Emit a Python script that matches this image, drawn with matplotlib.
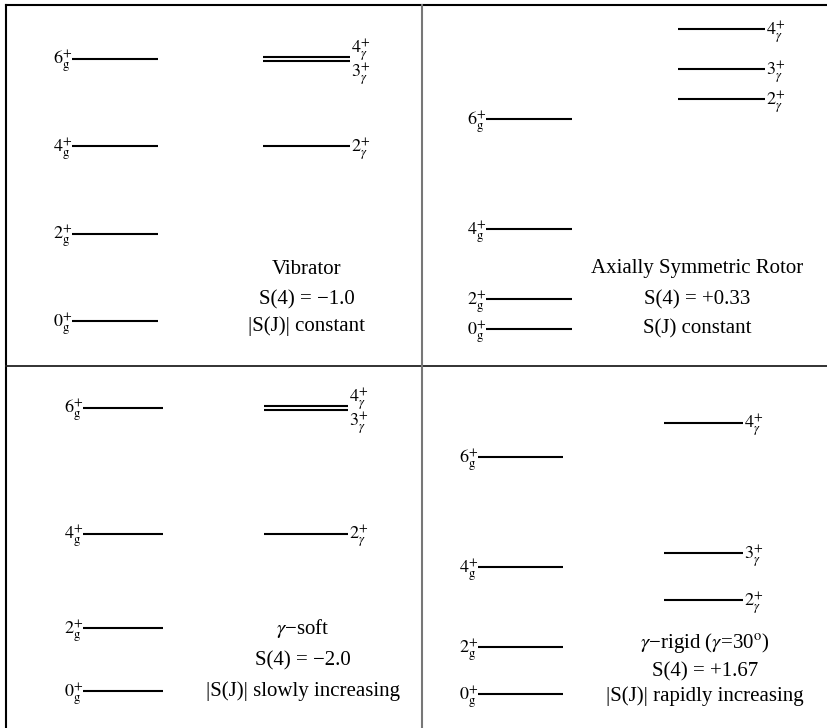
import matplotlib
matplotlib.use("Agg")
import matplotlib.pyplot as plt
from matplotlib.lines import Line2D

plt.rcParams['font.family'] = ['Liberation Serif', 'DejaVu Serif']
plt.rcParams['mathtext.fontset'] = 'stix'

W, H = 827, 728

# niveles de energia (unidades arbitrarias) de cada modelo
spins_g = ["0", "2", "4", "6"]
spins_gam = ["2", "3", "4"]

vib_g = [0, 1, 2, 3]
vib_gam = [2, 3, 3]

rot_g = [0, 6, 20, 42]
rot_gam = [46, 52, 60]

soft_g = [0, 4, 10, 18]
soft_gam = [10, 18, 18]

rig_g = [0, 1.0, 2.70, 5.04]
rig_gam = [2.0, 3.0, 5.77]

textos = [
    ["Vibrator", "S(4) = \u22121.0", "|S(J)| constant"],
    ["Axially Symmetric Rotor", "S(4) = +0.33", "S(J) constant"],
    ["$\\gamma$\u2212soft", "S(4) = \u22122.0", "|S(J)| slowly increasing"],
    ["$\\gamma$\u2212rigid ($\\gamma$=30$^{\\rm o}$)", "S(4) = +1.67", "|S(J)| rapidly increasing"],
]

fig = plt.figure(figsize=(W / 100, H / 100), dpi=100)

# caja del panel (px), cero de energia (px), px por unidad, x de las bandas, textos
paneles = [
    dict(box=(6, 4.5, 422, 366), cero=321, esc=87.5, xg=(72, 158), xgam=(263, 350),
         g=vib_g, gam=vib_gam, tx=307, ty=(270, 300, 326), txt=textos[0]),
    dict(box=(422, 4.5, 827, 366), cero=329, esc=5.0, xg=(486, 572), xgam=(678, 765),
         g=rot_g, gam=rot_gam, tx=697, ty=(269, 300, 329), txt=textos[1]),
    dict(box=(6, 366, 422, 728), cero=691, esc=15.75, xg=(83, 163), xgam=(264, 348),
         g=soft_g, gam=soft_gam, tx=303, ty=(629, 661, 691), txt=textos[2]),
    dict(box=(422, 366, 827, 728), cero=694, esc=47.0, xg=(478, 563), xgam=(664, 743),
         g=rig_g, gam=rig_gam, tx=705, ty=(643, 672, 696), txt=textos[3]),
]

BASE = -4.5  # bajada de la linea base de las etiquetas (pt)

for p in paneles:
    x0, y0, x1, y1 = p["box"]
    ax = fig.add_axes([x0 / W, 1 - y1 / H, (x1 - x0) / W, (y1 - y0) / H])
    ax.set_xlim(x0, x1)
    ax.set_ylim((p["cero"] - y1) / p["esc"], (p["cero"] - y0) / p["esc"])
    ax.axis('off')

    # banda fundamental
    for s, e in zip(spins_g, p["g"]):
        ax.plot(p["xg"], [e, e], color='black', lw=1.5, solid_capstyle='butt')
        ax.annotate("$%s_{\\mathrm{g}}^{+}$" % s, (p["xg"][0], e), xytext=(0, BASE),
                    textcoords='offset points', ha='right', va='baseline', fontsize=13)

    # banda gamma; niveles degenerados se separan un poco para verlos
    gam = list(p["gam"])
    doble = gam[1] == gam[2]
    sep = 2.0 / p["esc"]
    for i, (s, e) in enumerate(zip(spins_gam, gam)):
        ey = e
        dy = 0
        if doble and i == 1:
            ey = e - sep
            dy = -8
        if doble and i == 2:
            ey = e + sep
            dy = 6.5
        ax.plot(p["xgam"], [ey, ey], color='black', lw=1.5, solid_capstyle='butt')
        ax.annotate("$%s_{\\gamma}^{+}$" % s, (p["xgam"][1], ey), xytext=(1, BASE + dy),
                    textcoords='offset points', ha='left', va='baseline', fontsize=13)

    for t, y in zip(p["txt"], p["ty"]):
        fig.text(p["tx"] / W, 1 - y / H, t, ha='center', va='center', fontsize=15)

# marco
def linea(xa, ya, xb, yb, c='black', lw=1.5):
    fig.add_artist(Line2D([xa / W, xb / W], [1 - ya / H, 1 - yb / H], color=c, lw=lw))

linea(6, 4.5, 827, 4.5)
linea(6, 4.5, 6, 728)
linea(6, 366, 827, 366, c='#222222', lw=1.3)
linea(422, 4.5, 422, 728, c='#777777', lw=1.5)

fig.savefig("out.png", dpi=100)
